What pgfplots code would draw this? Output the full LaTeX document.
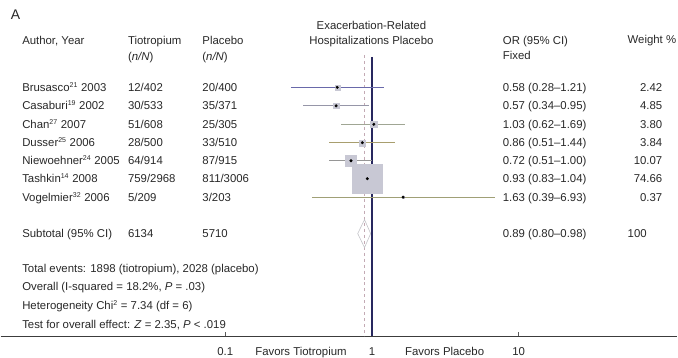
\documentclass[border=0pt]{standalone}
\usepackage{pgfplots}
\pgfplotsset{compat=1.18}
\usepackage{fontspec}
\setmainfont{Liberation Sans}
\definecolor{txt}{RGB}{40,40,40}
\definecolor{navy}{RGB}{40,40,95}
\definecolor{boxc}{RGB}{200,200,212}
\definecolor{dashc}{RGB}{195,170,180}
\definecolor{ciA}{RGB}{105,105,170}
\definecolor{ciB}{RGB}{150,150,168}
\definecolor{ciC}{RGB}{160,166,148}
\definecolor{ciD}{RGB}{168,158,110}
\definecolor{ciE}{RGB}{150,150,150}
\definecolor{ciF}{RGB}{80,80,80}
\definecolor{ciG}{RGB}{160,160,118}
\begin{document}
\begin{tikzpicture}[font=\fontsize{11.4}{13.7}\selectfont,
  t/.style={inner sep=0pt, text height=8.2pt, text depth=0pt, anchor=west, text=txt}]
\begin{axis}[name=ax,
  width=678pt, height=337pt, scale only axis,
  xmode=log, xmin=0.002946, xmax=120.7, ymin=0, ymax=337,
  axis x line*=bottom, axis y line=none,
  x axis line style={draw={rgb,255:red,60;green,60;blue,60}, line width=1.2pt},
  xtick={0.1,1,10}, xticklabels={0.1,1,10},
  xminorticks=false, tick align=inside, major tick length=4pt,
  tick style={draw={rgb,255:red,90;green,90;blue,90}, line width=0.8pt},
  xticklabel style={anchor=center, inner sep=0pt, text height=8.2pt, text depth=0pt, yshift=-15pt, text=txt, font=\fontsize{11.4}{13.7}\selectfont},
  clip=false]
% reference lines
\addplot[navy, line width=1.6pt] coordinates {(1,280) (1,0)};
\addplot[dashc, line width=0.8pt, dash pattern=on 3pt off 3pt] coordinates {(0.89,282) (0.89,0)};
% boxes (weights)
\addplot[only marks, mark=square*, mark size=2.5pt, mark options={fill=boxc, draw=boxc}] coordinates {(0.58,249.5)};
\addplot[only marks, mark=square*, mark size=2.8pt, mark options={fill=boxc, draw=boxc}] coordinates {(0.57,231)};
\addplot[only marks, mark=square*, mark size=3.2pt, mark options={fill=boxc, draw=boxc}] coordinates {(1.03,212.5)};
\addplot[only marks, mark=square*, mark size=3.0pt, mark options={fill=boxc, draw=boxc}] coordinates {(0.86,194)};
\addplot[only marks, mark=square*, mark size=5.5pt, mark options={fill=boxc, draw=boxc}] coordinates {(0.72,176)};
\addplot[only marks, mark=square*, mark size=15pt, mark options={fill=boxc, draw=boxc}] coordinates {(0.93,158)};
\addplot[only marks, mark=square*, mark size=1.0pt, mark options={fill=boxc, draw=boxc}] coordinates {(1.63,139.5)};
% confidence intervals
\addplot[ciA, line width=0.7pt] coordinates {(0.28,249.5) (1.21,249.5)};
\addplot[ciB, line width=0.7pt] coordinates {(0.34,231) (0.95,231)};
\addplot[ciC, line width=0.7pt] coordinates {(0.62,212.5) (1.69,212.5)};
\addplot[ciD, line width=0.7pt] coordinates {(0.51,194) (1.44,194)};
\addplot[ciE, line width=0.7pt] coordinates {(0.51,176) (1.00,176)};
\addplot[ciF, line width=0.7pt] coordinates {(0.83,158) (1.04,158)};
\addplot[ciG, line width=0.7pt] coordinates {(0.39,139.5) (6.93,139.5)};
% point estimates
\addplot[only marks, mark=*, mark size=1.3pt, black] coordinates {(0.58,249.5) (0.57,231) (1.03,212.5) (0.86,194) (0.72,176) (0.93,158) (1.63,139.5)};
% pooled diamond
\addplot[draw={rgb,255:red,195;green,195;blue,200}, line width=0.6pt] coordinates {(0.80,103) (0.89,117) (0.98,103) (0.89,89) (0.80,103)};
\end{axis}
\begin{scope}[shift={(ax.south west)}]
\node[t, text height=10pt, font=\fontsize{14}{16}\selectfont] at (10pt,322pt) {A};
\node[t, anchor=center] at (371.5pt,312pt) {Exacerbation-Related};
\node[t, anchor=center] at (371.5pt,297pt) {Hospitalizations Placebo};
\node[t] at (21.5pt,297pt) {Author, Year};
\node[t] at (127.5pt,297pt) {Tiotropium};
\node[t] at (127.5pt,280pt) {(\textit{n/N})};
\node[t] at (202pt,297pt) {Placebo};
\node[t] at (202pt,280pt) {(\textit{n/N})};
\node[t] at (503pt,297pt) {OR (95\% CI)};
\node[t] at (503pt,281pt) {Fixed};
\node[t] at (628pt,298pt) {Weight \%};
% study rows
\node[t] at (21.5pt,249.5pt) {Brusasco\textsuperscript{\fontsize{7}{8}\selectfont 21} 2003};
\node[t] at (21.5pt,231pt) {Casaburi\textsuperscript{\fontsize{7}{8}\selectfont 19} 2002};
\node[t] at (21.5pt,212.5pt) {Chan\textsuperscript{\fontsize{7}{8}\selectfont 27} 2007};
\node[t] at (21.5pt,194pt) {Dusser\textsuperscript{\fontsize{7}{8}\selectfont 25} 2006};
\node[t] at (21.5pt,176pt) {Niewoehner\textsuperscript{\fontsize{7}{8}\selectfont 24} 2005};
\node[t] at (21.5pt,158pt) {Tashkin\textsuperscript{\fontsize{7}{8}\selectfont 14} 2008};
\node[t] at (21.5pt,139.5pt) {Vogelmier\textsuperscript{\fontsize{7}{8}\selectfont 32} 2006};
\node[t] at (21.5pt,103pt) {Subtotal (95\% CI)};
\node[t] at (127.5pt,249.5pt) {12/402};
\node[t] at (127.5pt,231pt) {30/533};
\node[t] at (127.5pt,212.5pt) {51/608};
\node[t] at (127.5pt,194pt) {28/500};
\node[t] at (127.5pt,176pt) {64/914};
\node[t] at (127.5pt,158pt) {759/2968};
\node[t] at (127.5pt,139.5pt) {5/209};
\node[t] at (127.5pt,103pt) {6134};
\node[t] at (202pt,249.5pt) {20/400};
\node[t] at (202pt,231pt) {35/371};
\node[t] at (202pt,212.5pt) {25/305};
\node[t] at (202pt,194pt) {33/510};
\node[t] at (202pt,176pt) {87/915};
\node[t] at (202pt,158pt) {811/3006};
\node[t] at (202pt,139.5pt) {3/203};
\node[t] at (202pt,103pt) {5710};
\node[t] at (503pt,249.5pt) {0.58 (0.28--1.21)};
\node[t] at (503pt,231pt) {0.57 (0.34--0.95)};
\node[t] at (503pt,212.5pt) {1.03 (0.62--1.69)};
\node[t] at (503pt,194pt) {0.86 (0.51--1.44)};
\node[t] at (503pt,176pt) {0.72 (0.51--1.00)};
\node[t] at (503pt,158pt) {0.93 (0.83--1.04)};
\node[t] at (503pt,139.5pt) {1.63 (0.39--6.93)};
\node[t] at (503pt,103pt) {0.89 (0.80--0.98)};
\node[t, anchor=east] at (663pt,249.5pt) {2.42};
\node[t, anchor=east] at (663pt,231pt) {4.85};
\node[t, anchor=east] at (663pt,212.5pt) {3.80};
\node[t, anchor=east] at (663pt,194pt) {3.84};
\node[t, anchor=east] at (663pt,176pt) {10.07};
\node[t, anchor=east] at (663pt,158pt) {74.66};
\node[t, anchor=east] at (663pt,139.5pt) {0.37};
\node[t] at (628pt,103pt) {100};
% summary text
\node[t] at (21.5pt,68pt) {Total events: 1898 (tiotropium), 2028 (placebo)};
\node[t] at (21.5pt,50pt) {Overall (I-squared = 18.2\%, \textit{P} = .03)};
\node[t] at (21.5pt,31.5pt) {Heterogeneity Chi\textsuperscript{\fontsize{7}{8}\selectfont 2} = 7.34 (df = 6)};
\node[t] at (21.5pt,12.5pt) {Test for overall effect: \textit{Z} = 2.35, \textit{P} < .019};
\node[t] at (255pt,-15pt) {Favors Tiotropium};
\node[t] at (405pt,-15pt) {Favors Placebo};
\path (0pt,-21pt) rectangle (678pt,337pt);
\end{scope}
\end{tikzpicture}
\end{document}
